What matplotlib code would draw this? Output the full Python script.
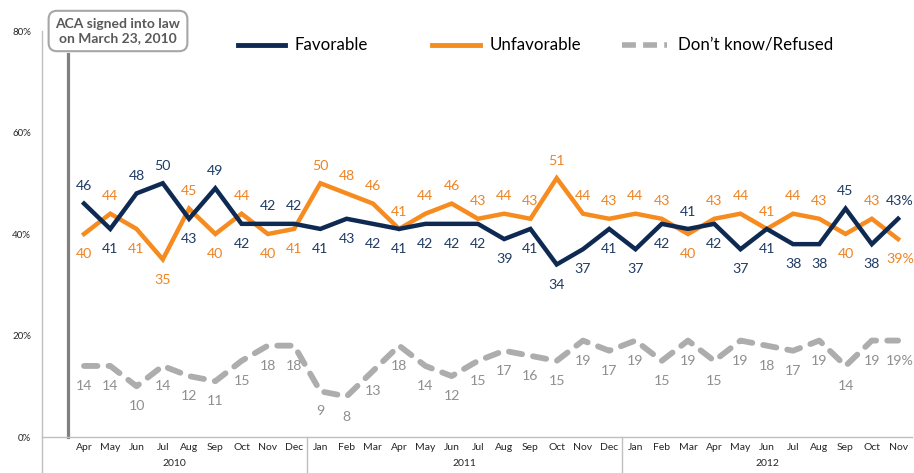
import matplotlib
matplotlib.use("Agg")
import matplotlib.pyplot as plt
from matplotlib.lines import Line2D
import matplotlib.transforms as mtrans

plt.rcParams['font.family'] = ['Lato', 'DejaVu Sans']

months = ['Apr', 'May', 'Jun', 'Jul', 'Aug', 'Sep', 'Oct', 'Nov', 'Dec',
          'Jan', 'Feb', 'Mar', 'Apr', 'May', 'Jun', 'Jul', 'Aug', 'Sep', 'Oct', 'Nov', 'Dec',
          'Jan', 'Feb', 'Mar', 'Apr', 'May', 'Jun', 'Jul', 'Aug', 'Sep', 'Oct', 'Nov']
years = ['2010', '2011', '2012']
year_counts = [9, 12, 11]

favorable = [46, 41, 48, 50, 43, 49, 42, 42, 42,
             41, 43, 42, 41, 42, 42, 42, 39, 41, 34, 37, 41,
             37, 42, 41, 42, 37, 41, 38, 38, 45, 38, 43]
unfavorable = [40, 44, 41, 35, 45, 40, 44, 40, 41,
               50, 48, 46, 41, 44, 46, 43, 44, 43, 51, 44, 43,
               44, 43, 40, 43, 44, 41, 44, 43, 40, 43, 39]
dontknow = [14, 14, 10, 14, 12, 11, 15, 18, 18,
            9, 8, 13, 18, 14, 12, 15, 17, 16, 15, 19, 17,
            19, 15, 19, 15, 19, 18, 17, 19, 14, 19, 19]

fav_pos = ['a', 'b', 'a', 'a', 'b', 'a', 'b', 'a', 'a',
           'b', 'b', 'b', 'b', 'b', 'b', 'b', 'b', 'b', 'b', 'b', 'b',
           'b', 'b', 'a', 'b', 'b', 'b', 'b', 'b', 'a', 'b', 'a']
unf_pos = ['b', 'a', 'b', 'b', 'a', 'b', 'a', 'b', 'b',
           'a', 'a', 'a', 'a', 'a', 'a', 'a', 'a', 'a', 'a', 'a', 'a',
           'a', 'a', 'b', 'a', 'a', 'a', 'a', 'a', 'b', 'a', 'b']
dk_pos = ['b'] * len(dontknow)

yticks = [0, 20, 40, 60, 80]
ytick_labels = ['0%', '20%', '40%', '60%', '80%']

C_FAV = '#0F2A52'
C_UNF = '#F68B1F'
C_DK = '#ADADAD'
L_FAV = '#1F3B66'
L_UNF = '#EE8424'
L_DK = '#8F8F8F'

fig = plt.figure(figsize=(9.14, 4.73), dpi=100)
ax = fig.add_axes([42 / 914, 36 / 473, 870 / 914, 406 / 473])

x = list(range(len(months)))
ax.plot(x, dontknow, color=C_DK, lw=4.2, dashes=(2.3, 1.9), dash_capstyle='round', zorder=2)
ax.plot(x, unfavorable, color=C_UNF, lw=3.2, solid_joinstyle='miter', zorder=3)
ax.plot(x, favorable, color=C_FAV, lw=3.2, solid_joinstyle='miter', zorder=4)

def label_series(vals, pos, color):
    n = len(vals)
    for i, (v, p) in enumerate(zip(vals, pos)):
        txt = f'{v}%' if i == n - 1 else f'{v}'
        dy = 12.5 if p == 'a' else -14.5
        dx = 1.5 if i == n - 1 else 0
        ax.annotate(txt, (i, v), xytext=(dx, dy), textcoords='offset points',
                    ha='center', va='center', fontsize=10.2, color=color, zorder=5)

label_series(favorable, fav_pos, L_FAV)
label_series(unfavorable, unf_pos, L_UNF)
label_series(dontknow, dk_pos, L_DK)

ax.set_xlim(-1.6, 31.53)
ax.set_ylim(0, 80)
ax.set_yticks(yticks)
ax.set_yticklabels(ytick_labels, fontsize=7, color='#262626')
ax.set_xticks(x)
ax.set_xticklabels(months, fontsize=7.5, color='#262626')
ax.tick_params(axis='both', length=0)
ax.tick_params(axis='y', pad=8)
ax.tick_params(axis='x', pad=4.5)
for s in ['top', 'right']:
    ax.spines[s].set_visible(False)
ax.spines['left'].set_color('#BFBFBF')
ax.spines['bottom'].set_color('#BFBFBF')
ax.spines['left'].set_linewidth(1.0)
ax.spines['bottom'].set_linewidth(1.0)

# group separators and year labels
trans = mtrans.blended_transform_factory(ax.transData, ax.transAxes)
bot = -36 / 406
bounds = [-1.6]
acc = 0
for c in year_counts:
    acc += c
    bounds.append(acc - 0.5)
bounds[-1] = 31.53
for b in bounds[:-1]:
    ax.plot([b, b], [0, bot], transform=trans, color='#BFBFBF', lw=1.0, clip_on=False)
for yr, a, b in zip(years, bounds[:-1], bounds[1:]):
    ax.text((a + b) / 2, -26 / 406, yr, transform=trans, ha='center', va='center',
            fontsize=7.5, color='#262626')

# ACA signing marker
ax.plot([-0.61, -0.61], [0, 75.5], color='#808080', lw=2.3, zorder=1, clip_on=False)
fig.text(118 / 914, 1 - 31 / 473, 'ACA signed into law\non March 23, 2010', ha='center', va='center',
         fontsize=10, fontweight='bold', color='#595959', linespacing=1.25,
         bbox=dict(boxstyle='round,pad=0.5,rounding_size=0.6', fc='white', ec='#A6A6A6', lw=1.5))

# legend (manual)
ly = 1 - 45 / 473
items = [(238, 285, 295, 'Favorable', C_FAV, None),
         (432, 480, 490, 'Unfavorable', C_UNF, None),
         (622, 667, 678, 'Don\u2019t know/Refused', C_DK, (2.5, 1.3))]
for x0, x1, tx, lab, col, dsh in items:
    ln = Line2D([x0 / 914, x1 / 914], [ly, ly], transform=fig.transFigure, color=col, lw=3.5)
    if dsh:
        ln.set_dashes(dsh)
        ln.set_linewidth(4)
    fig.add_artist(ln)
    fig.text(tx / 914, ly, lab, ha='left', va='center', fontsize=12.2, color='#000000')

fig.savefig('out.png', dpi=100)
